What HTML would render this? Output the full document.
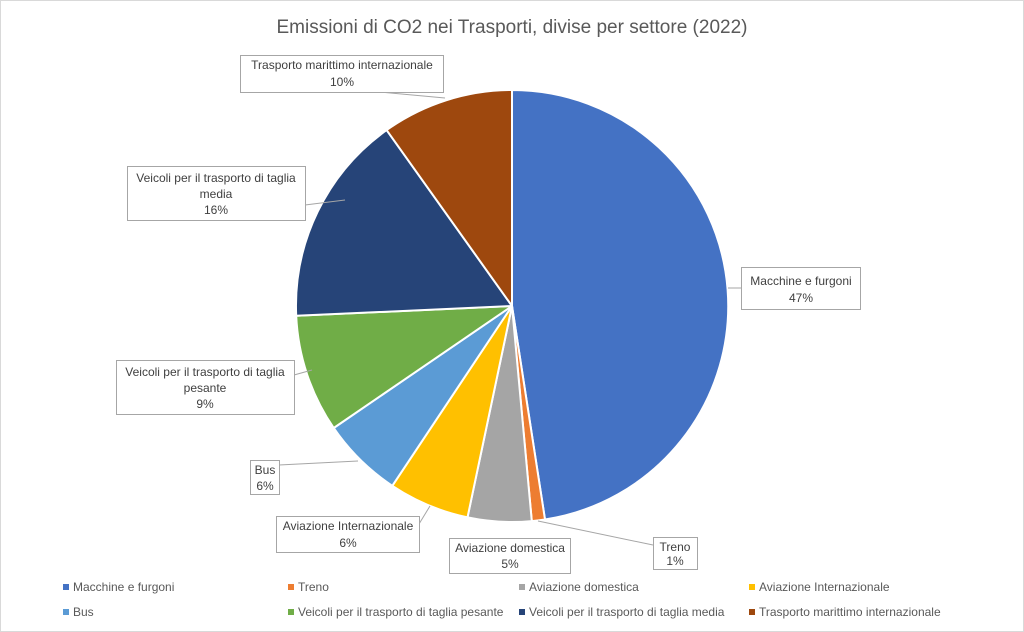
<!DOCTYPE html>
<html><head><meta charset="utf-8"><style>
body{margin:0;background:#fff}
svg{display:block;font-family:"Liberation Sans",sans-serif}
</style></head><body>
<svg width="1024" height="632" viewBox="0 0 1024 632">
<rect x="0.5" y="0.5" width="1023" height="631" fill="#fff" stroke="#d9d9d9"/>
<text x="512" y="33" text-anchor="middle" font-size="19" fill="#595959">Emissioni di CO2 nei Trasporti, divise per settore (2022)</text>
<g stroke="#fff" stroke-width="2" stroke-linejoin="round">
<path d="M512,306 L512,90 A216,216 0 0 1 545.0,519.5 Z" fill="#4472C4"/>
<path d="M512,306 L545.0,519.5 A216,216 0 0 1 531.8,521.1 Z" fill="#ED7D31"/>
<path d="M512,306 L531.8,521.1 A216,216 0 0 1 467.5,517.4 Z" fill="#A5A5A5"/>
<path d="M512,306 L467.5,517.4 A216,216 0 0 1 392.3,485.8 Z" fill="#FFC000"/>
<path d="M512,306 L392.3,485.8 A216,216 0 0 1 333.7,428.0 Z" fill="#5B9BD5"/>
<path d="M512,306 L333.7,428.0 A216,216 0 0 1 296.2,315.8 Z" fill="#70AD47"/>
<path d="M512,306 L296.2,315.8 A216,216 0 0 1 386.6,130.1 Z" fill="#264478"/>
<path d="M512,306 L386.6,130.1 A216,216 0 0 1 512,90 Z" fill="#9E480E"/>
</g>
<g stroke="#a6a6a6" stroke-width="1" fill="none">
<polyline points="380,92 445,98"/>
<polyline points="305,205 345,200"/>
<polyline points="741,288 728,288"/>
<polyline points="294,375 312,370"/>
<polyline points="279,465 358,461"/>
<polyline points="419,524 430,506"/>
<polyline points="653,545 538,521"/>
</g>
<g fill="#fff" stroke="#a6a6a6" stroke-width="1">
<rect x="240.5" y="55.5" width="203" height="37"/>
<rect x="127.5" y="166.5" width="178" height="54"/>
<rect x="741.5" y="267.5" width="119" height="42"/>
<rect x="116.5" y="360.5" width="178" height="54"/>
<rect x="250.5" y="460.5" width="29" height="34"/>
<rect x="276.5" y="516.5" width="143" height="36"/>
<rect x="449.5" y="538.5" width="121" height="35"/>
<rect x="653.5" y="537.5" width="44" height="32"/>
</g>
<g font-size="12" fill="#404040" text-anchor="middle">
<text x="342" y="69">Trasporto marittimo internazionale</text><text x="342" y="86">10%</text>
<text x="216" y="182">Veicoli per il trasporto di taglia</text><text x="216" y="198">media</text><text x="216" y="214">16%</text>
<text x="801" y="285">Macchine e furgoni</text><text x="801" y="302">47%</text>
<text x="205" y="376">Veicoli per il trasporto di taglia</text><text x="205" y="392">pesante</text><text x="205" y="408">9%</text>
<text x="265" y="474">Bus</text><text x="265" y="490">6%</text>
<text x="348" y="530">Aviazione Internazionale</text><text x="348" y="547">6%</text>
<text x="510" y="552">Aviazione domestica</text><text x="510" y="568">5%</text>
<text x="675" y="551">Treno</text><text x="675" y="565">1%</text>
</g>
<g font-size="12" fill="#595959">
<rect x="63" y="584" width="6" height="6" fill="#4472C4"/><text x="73" y="591">Macchine e furgoni</text>
<rect x="288" y="584" width="6" height="6" fill="#ED7D31"/><text x="298" y="591">Treno</text>
<rect x="519" y="584" width="6" height="6" fill="#A5A5A5"/><text x="529" y="591">Aviazione domestica</text>
<rect x="749" y="584" width="6" height="6" fill="#FFC000"/><text x="759" y="591">Aviazione Internazionale</text>
<rect x="63" y="609" width="6" height="6" fill="#5B9BD5"/><text x="73" y="616">Bus</text>
<rect x="288" y="609" width="6" height="6" fill="#70AD47"/><text x="298" y="616">Veicoli per il trasporto di taglia pesante</text>
<rect x="519" y="609" width="6" height="6" fill="#264478"/><text x="529" y="616">Veicoli per il trasporto di taglia media</text>
<rect x="749" y="609" width="6" height="6" fill="#9E480E"/><text x="759" y="616">Trasporto marittimo internazionale</text>
</g>
</svg>
</body></html>
